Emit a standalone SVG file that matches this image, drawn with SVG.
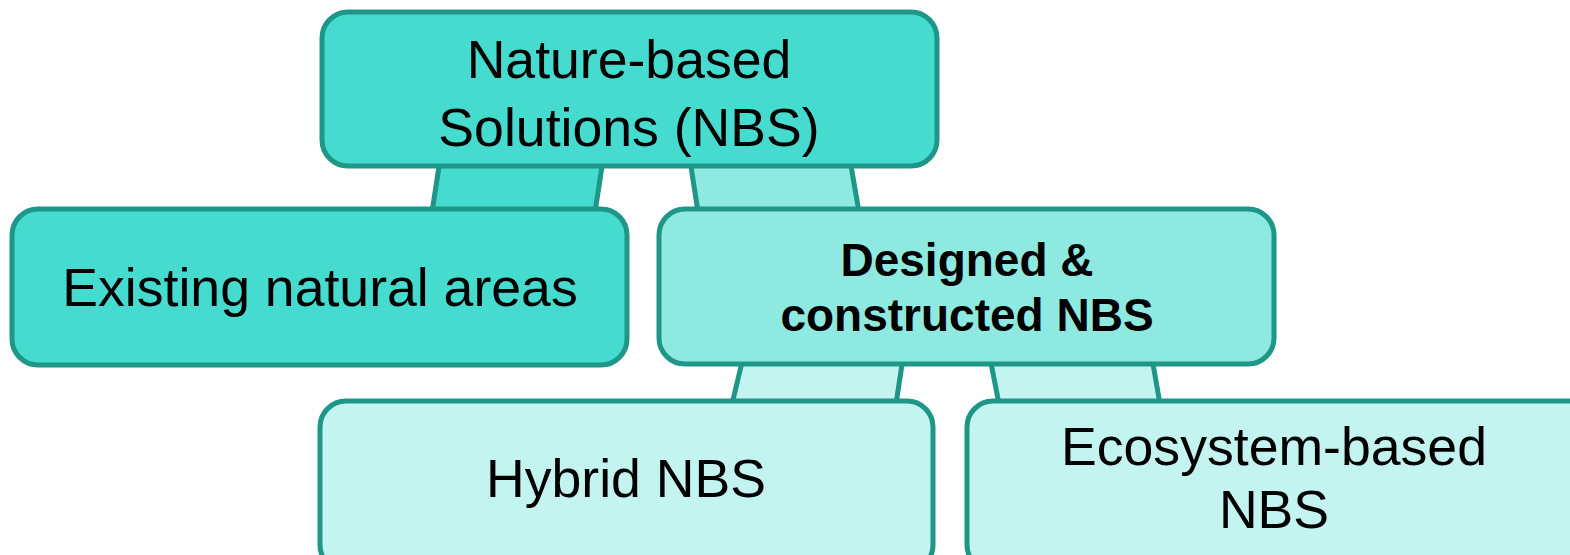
<svg xmlns="http://www.w3.org/2000/svg" width="1570" height="555" viewBox="0 0 1570 555">
<style>
.box{stroke:#1e9688;stroke-width:5}
.c1{fill:#45dbcf}
.c2{fill:#8eeae0}
.c3{fill:#c4f4ef}
.link{stroke:#1e9688;stroke-width:5;stroke-linejoin:round}
.t{font-family:"Liberation Sans",Arial,sans-serif;font-size:53.6px;fill:#000;text-anchor:middle}
.b{font-family:"Liberation Sans",Arial,sans-serif;font-size:46px;font-weight:bold;fill:#000;text-anchor:middle}
</style>
<rect width="1570" height="555" fill="#fff"/>
<g id="connectors">
<polygon class="link c1" points="440,160 603,160 595,212 432,212"/>
<polygon class="link c2" points="690,160 850,160 859,212 698,212"/>
<polygon class="link c3" points="743,358 903,358 896,404 732,404"/>
<polygon class="link c3" points="990,358 1152,358 1160,404 999,404"/>
</g>
<g id="node-nbs">
<rect class="box c1" x="322" y="12" width="615" height="154" rx="26"/>
<text class="t" x="629" y="78">Nature-based</text>
<text class="t" x="629" y="146">Solutions (NBS)</text>
</g>
<g id="node-existing">
<rect class="box c1" x="12" y="209" width="615" height="156" rx="26"/>
<text class="t" x="320" y="306">Existing natural areas</text>
</g>
<g id="node-designed">
<rect class="box c2" x="659" y="209" width="615" height="155" rx="26"/>
<text class="b" x="967" y="276">Designed &amp;</text>
<text class="b" x="967" y="331">constructed NBS</text>
</g>
<g id="node-hybrid">
<rect class="box c3" x="320" y="401" width="613" height="170" rx="26"/>
<text class="t" x="626" y="497">Hybrid NBS</text>
</g>
<g id="node-ecosystem">
<rect class="box c3" x="967" y="401" width="640" height="170" rx="26"/>
<text class="t" x="1274" y="465">Ecosystem-based</text>
<text class="t" x="1274" y="528">NBS</text>
</g>
</svg>
